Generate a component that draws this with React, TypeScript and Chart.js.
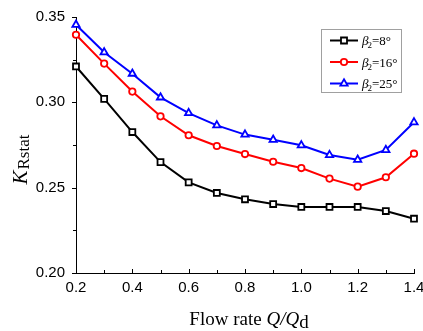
import React, { useEffect, useRef } from "react";
import { Chart, registerables } from "chart.js";

Chart.register(...registerables);

const flowRates = [0.2, 0.3, 0.4, 0.5, 0.6, 0.7, 0.8, 0.9, 1.0, 1.1, 1.2, 1.3, 1.4];
const beta8 = [0.321, 0.302, 0.2826, 0.265, 0.2531, 0.2469, 0.2432, 0.2404, 0.2387, 0.2387, 0.2387, 0.2363, 0.2318];
const beta16 = [0.3396, 0.3227, 0.3063, 0.2918, 0.2807, 0.2744, 0.2697, 0.2652, 0.2615, 0.2553, 0.2506, 0.2561, 0.2699];
const beta25 = [0.3455, 0.3293, 0.3168, 0.3029, 0.2937, 0.2865, 0.2811, 0.2781, 0.2748, 0.2691, 0.2664, 0.2721, 0.2883];
const seriesNames = ["8°", "16°", "25°"];
const seriesColors = ["#000000", "#ff0000", "#0000ff"];
const seriesMarkers = ["rect", "circle", "triangle"];
const xTicks = [0.2, 0.4, 0.6, 0.8, 1.0, 1.2, 1.4];
const yTicks = [0.2, 0.25, 0.3, 0.35];

const SERIF = "'Liberation Serif', 'Times New Roman', serif";
const SANS = "'Liberation Sans', Arial, sans-serif";

function drawMarker(ctx: CanvasRenderingContext2D, kind: string, x: number, y: number, color: string) {
  ctx.save();
  ctx.strokeStyle = color;
  ctx.fillStyle = "#ffffff";
  ctx.lineWidth = 1.8;
  ctx.beginPath();
  if (kind === "rect") {
    ctx.rect(x - 3, y - 3, 6, 6);
  } else if (kind === "circle") {
    ctx.arc(x, y, 3.2, 0, Math.PI * 2);
  } else {
    const r = 4.2;
    ctx.moveTo(x, y - r);
    ctx.lineTo(x + r * Math.sin((2 * Math.PI) / 3), y + r * 0.5);
    ctx.lineTo(x - r * Math.sin((2 * Math.PI) / 3), y + r * 0.5);
    ctx.closePath();
  }
  ctx.fill();
  ctx.stroke();
  ctx.restore();
}

const decorPlugin = {
  id: "decor",
  afterDraw(chart: any) {
    const ctx: CanvasRenderingContext2D = chart.ctx;
    const xs = chart.scales.x;
    const ys = chart.scales.y;
    const area = chart.chartArea;
    ctx.save();
    ctx.strokeStyle = "#000";
    ctx.lineWidth = 1;
    // x ticks (inward)
    for (let v = 0.2; v <= 1.4001; v += 0.1) {
      const px = Math.round(xs.getPixelForValue(v)) + 0.5;
      const major = Math.round(v * 10) % 2 === 0;
      ctx.beginPath();
      ctx.moveTo(px, area.bottom);
      ctx.lineTo(px, area.bottom - (major ? 4 : 3));
      ctx.stroke();
    }
    // y ticks (outward)
    for (let v = 0.2; v <= 0.3501; v += 0.025) {
      const py = Math.round(ys.getPixelForValue(v)) + 0.5;
      const major = Math.round(v * 1000) % 50 === 0;
      ctx.beginPath();
      ctx.moveTo(area.left, py);
      ctx.lineTo(area.left - (major ? 4 : 3), py);
      ctx.stroke();
    }
    ctx.restore();

    // X title: Flow rate Q/Qd
    ctx.save();
    ctx.fillStyle = "#000";
    ctx.textBaseline = "alphabetic";
    ctx.textAlign = "left";
    const normal = "19px " + SERIF;
    const ital = "italic 19px " + SERIF;
    ctx.font = normal;
    const p1 = "Flow rate ";
    const w1 = ctx.measureText(p1).width;
    ctx.font = ital;
    const p2 = "Q/Q";
    const w2 = ctx.measureText(p2).width;
    ctx.font = normal;
    const w3 = ctx.measureText("d").width;
    const total = w1 + w2 + w3;
    let sx = (area.left + area.right) / 2 + 4 - total / 2;
    const by = 325;
    ctx.font = normal;
    ctx.fillText(p1, sx, by);
    sx += w1;
    ctx.font = ital;
    ctx.fillText(p2, sx, by);
    sx += w2;
    ctx.font = normal;
    ctx.fillText("d", sx, by + 3);
    ctx.restore();

    // Y title: K_Rstat
    ctx.save();
    ctx.fillStyle = "#000";
    ctx.translate(27, 0);
    ctx.rotate(-Math.PI / 2);
    ctx.textBaseline = "alphabetic";
    ctx.font = "italic 21px " + SERIF;
    const kW = ctx.measureText("K").width;
    ctx.font = "17px " + SERIF;
    const rW = ctx.measureText("Rstat").width;
    const start = -(160 + (kW + rW) / 2);
    ctx.font = "italic 21px " + SERIF;
    ctx.fillText("K", start, 0);
    ctx.font = "17px " + SERIF;
    ctx.fillText("Rstat", start + kW + 1, 2);
    ctx.restore();

    // Legend
    ctx.save();
    ctx.strokeStyle = "#a0a0a0";
    ctx.lineWidth = 1;
    ctx.strokeRect(321.5, 29.5, 80, 63);
    const rows = [40.5, 62, 83.5];
    for (let i = 0; i < 3; i++) {
      const y = rows[i];
      ctx.strokeStyle = seriesColors[i];
      ctx.lineWidth = 2;
      ctx.beginPath();
      ctx.moveTo(330, y);
      ctx.lineTo(358, y);
      ctx.stroke();
      drawMarker(ctx, seriesMarkers[i], 344, y, seriesColors[i]);
      ctx.fillStyle = "#000";
      ctx.textBaseline = "alphabetic";
      let tx = 362;
      const base = y + 4.5;
      ctx.font = "italic 13px " + SERIF;
      ctx.fillText("β", tx, base);
      tx += ctx.measureText("β").width;
      ctx.font = "9px " + SERIF;
      ctx.fillText("2", tx - 1, base + 3);
      tx += ctx.measureText("2").width - 1;
      ctx.font = "13px " + SERIF;
      ctx.fillText("=" + seriesNames[i], tx, base);
    }
    ctx.restore();
  },
};

export default function App() {
  const ref = useRef<HTMLCanvasElement | null>(null);
  useEffect(() => {
    document.body.style.margin = "0";
    const canvas = ref.current;
    if (!canvas) return;
    const seriesValues = [beta8, beta16, beta25];
    const chart = new Chart(canvas, {
      type: "line",
      data: {
        datasets: seriesValues.map((vals, i) => ({
          label: "β2=" + seriesNames[i],
          data: flowRates.map((x, j) => ({ x, y: vals[j] })),
          borderColor: seriesColors[i],
          backgroundColor: "#ffffff",
          borderWidth: 2,
          pointStyle: seriesMarkers[i] as any,
          pointRadius: seriesMarkers[i] === "rect" ? 4.2 : seriesMarkers[i] === "circle" ? 3.2 : 4.2,
          pointBorderWidth: 1.8,
          pointBackgroundColor: "#ffffff",
          pointBorderColor: seriesColors[i],
          tension: 0,
          clip: false as any,
        })),
      },
      options: {
        animation: false,
        responsive: false,
        devicePixelRatio: 1,
        layout: { padding: { top: 17, right: 9, left: 0, bottom: 0 } },
        plugins: { legend: { display: false }, tooltip: { enabled: false } },
        scales: {
          x: {
            type: "linear",
            min: 0.2,
            max: 1.4,
            afterBuildTicks: (s: any) => {
              s.ticks = xTicks.map((v) => ({ value: v }));
            },
            ticks: {
              font: { family: SANS, size: 15 },
              color: "#000",
              padding: 6,
              maxRotation: 0,
              autoSkip: false,
              callback: (v: any) => Number(v).toFixed(1),
            },
            grid: { display: false, drawTicks: false },
            border: { display: true, color: "#000", width: 1 },
            afterFit: (s: any) => {
              s.height = 58;
              s.paddingLeft = 0;
              s.paddingRight = 0;
            },
          },
          y: {
            type: "linear",
            min: 0.2,
            max: 0.35,
            afterBuildTicks: (s: any) => {
              s.ticks = yTicks.map((v) => ({ value: v }));
            },
            ticks: {
              font: { family: SANS, size: 15 },
              color: "#000",
              padding: 11,
              autoSkip: false,
              callback: (v: any) => Number(v).toFixed(2),
            },
            grid: { display: false, drawTicks: false },
            border: { display: true, color: "#000", width: 1 },
            afterFit: (s: any) => {
              s.width = 76;
              s.paddingTop = 0;
              s.paddingBottom = 0;
            },
          },
        },
      },
      plugins: [decorPlugin],
    });
    return () => chart.destroy();
  }, []);
  return (
    <div style={{ width: 423, height: 331, position: "relative" }}>
      <canvas ref={ref} width={423} height={331} />
    </div>
  );
}
